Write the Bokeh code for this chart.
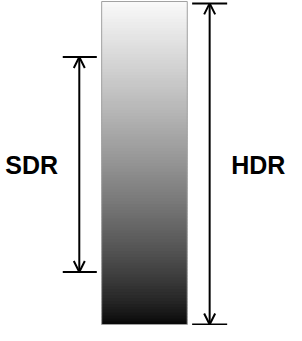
import numpy as np
from bokeh.plotting import figure
from bokeh.models import Range1d, Arrow, OpenHead
from bokeh.core.properties import value
from bokeh.embed import file_html
from bokeh.resources import INLINE

# Ranges (in reference pixel units)
labels = ["SDR", "HDR"]
range_top = [65, 10]
range_bottom = [286, 340]
arrow_x = [89, 223]
cap_left = [72, 205]
cap_right = [107, 241]
label_x = [40, 273]
label_y = [176, 176]

bar_left, bar_right = 112, 200
bar_top, bar_bottom = 8, 340

p = figure(width=286, height=325, output_backend="svg", toolbar_location=None,
           x_range=Range1d(8, 302), y_range=Range1d(341, 7),
           min_border=0)
p.axis.visible = False
p.grid.visible = False
p.outline_line_color = None

# gradient bar as thin overlapping strips
n = 110
edges = np.linspace(bar_top, bar_bottom, n + 1)
t = (np.arange(n) + 0.5) / n
levels = 6 + 244 * (1 - t) ** 0.78
colors = ["#%02x%02x%02x" % (int(v), int(v), int(v)) for v in levels]
bottoms = np.minimum(edges[1:] + 2.5, bar_bottom)
p.quad(left=bar_left, right=bar_right, top=edges[:-1], bottom=bottoms,
       fill_color=colors, line_color=None)
p.quad(left=bar_left, right=bar_right, top=bar_top, bottom=bar_bottom,
       fill_color=None, line_color="#a0a0a0", line_width=1)

# caps
p.segment(x0=cap_left + cap_left, x1=cap_right + cap_right,
          y0=range_top + range_bottom, y1=range_top + range_bottom,
          line_color="black", line_width=2)

# arrows
for i in range(2):
    p.add_layout(Arrow(x_start=arrow_x[i], x_end=arrow_x[i],
                       y_start=range_top[i], y_end=range_bottom[i],
                       line_width=2, line_color="black",
                       start=OpenHead(size=11, line_width=2, line_color="black"),
                       end=OpenHead(size=11, line_width=2, line_color="black")))

p.text(x=label_x, y=label_y, text=labels, text_font=value("Liberation Sans"),
       text_font_style="bold", text_font_size="25px", text_align="center",
       text_baseline="middle", text_color="black")

open("out.html", "w").write(file_html(p, INLINE))
